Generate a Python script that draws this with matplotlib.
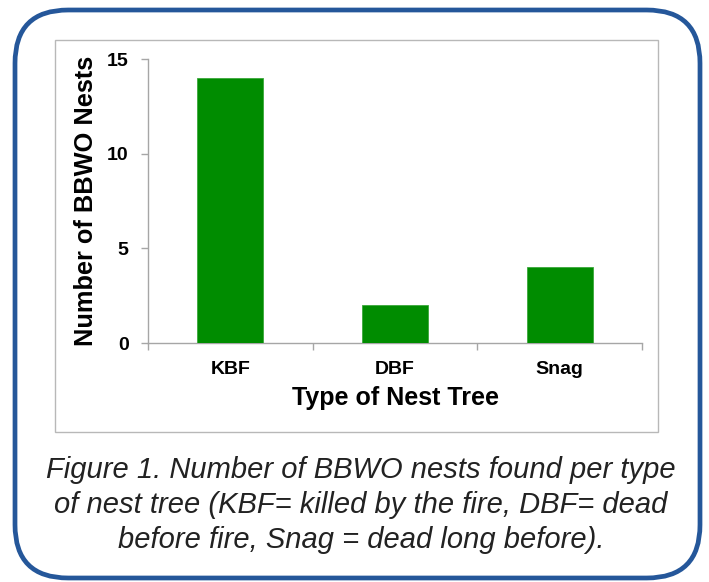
import matplotlib
matplotlib.use("Agg")
import matplotlib.pyplot as plt
from matplotlib.patches import FancyBboxPatch, Rectangle
import numpy as np

matplotlib.rcParams['font.family'] = "Liberation Sans"

# nests per type of nest tree
tree_types = ["KBF", "DBF", "Snag"]
nest_counts = [14, 2, 4]
y_ticks = [0, 5, 10, 15]

GREEN = "#008c00"
BLUE = "#25579a"
GRAY = "#a6a6a6"

W, H = 709, 582
fig = plt.figure(figsize=(W / 100, H / 100), dpi=100)

def px(x0, y0, x1, y1):
    # pixel box (top-left origin) -> figure fraction rect
    return [x0 / W, 1 - y1 / H, (x1 - x0) / W, (y1 - y0) / H]

# outer rounded blue box
r = px(15, 10, 700, 578)
fig.patches.append(FancyBboxPatch((r[0], r[1]), r[2], r[3],
                                  boxstyle="round,pad=0,rounding_size=0.075",
                                  transform=fig.transFigure, fill=False,
                                  edgecolor=BLUE, linewidth=3.4,
                                  mutation_aspect=W / H))
# inner chart frame
r = px(55, 40, 658, 432)
fig.patches.append(Rectangle((r[0], r[1]), r[2], r[3], transform=fig.transFigure,
                             fill=False, edgecolor="#b8b8b8", linewidth=1.0))

ax = fig.add_axes(px(148, 59, 642, 343))
x = np.arange(len(tree_types))
ax.bar(x, nest_counts, width=0.4, color=GREEN, edgecolor="#3aa83a", linewidth=0.6, zorder=3)

ax.set_xlim(-0.5, len(tree_types) - 0.5)
ax.set_ylim(0, 15)
ax.set_yticks(y_ticks)
ax.set_xticks(x, tree_types)
ax.set_xticks(np.arange(len(tree_types) + 1) - 0.5, minor=True)
ax.tick_params(axis='x', which='major', length=0, pad=13)
ax.tick_params(axis='x', which='minor', length=5, color=GRAY, width=1)
ax.tick_params(axis='y', length=5, color=GRAY, width=1, pad=9)
for lbl in ax.get_xticklabels() + ax.get_yticklabels():
    lbl.set_fontweight("bold")
    lbl.set_fontsize(14)
for s in ["top", "right"]:
    ax.spines[s].set_visible(False)
for s in ["left", "bottom"]:
    ax.spines[s].set_color(GRAY)
    ax.spines[s].set_linewidth(1)

ax.set_xlabel("Type of Nest Tree", fontsize=18, fontweight="bold", labelpad=6)
ax.set_ylabel("Number of BBWO Nests", fontsize=18.3, fontweight="bold", labelpad=6)

caption = ("Figure 1. Number of BBWO nests found per type\n"
           "of nest tree (KBF= killed by the fire, DBF= dead\n"
           "before fire, Snag = dead long before).")
fig.text(361 / W, 1 - 505 / H, caption, ha="center", va="center",
         fontsize=21, style="italic", color="#222222", linespacing=1.33)

plt.savefig("out.png", dpi=100)
